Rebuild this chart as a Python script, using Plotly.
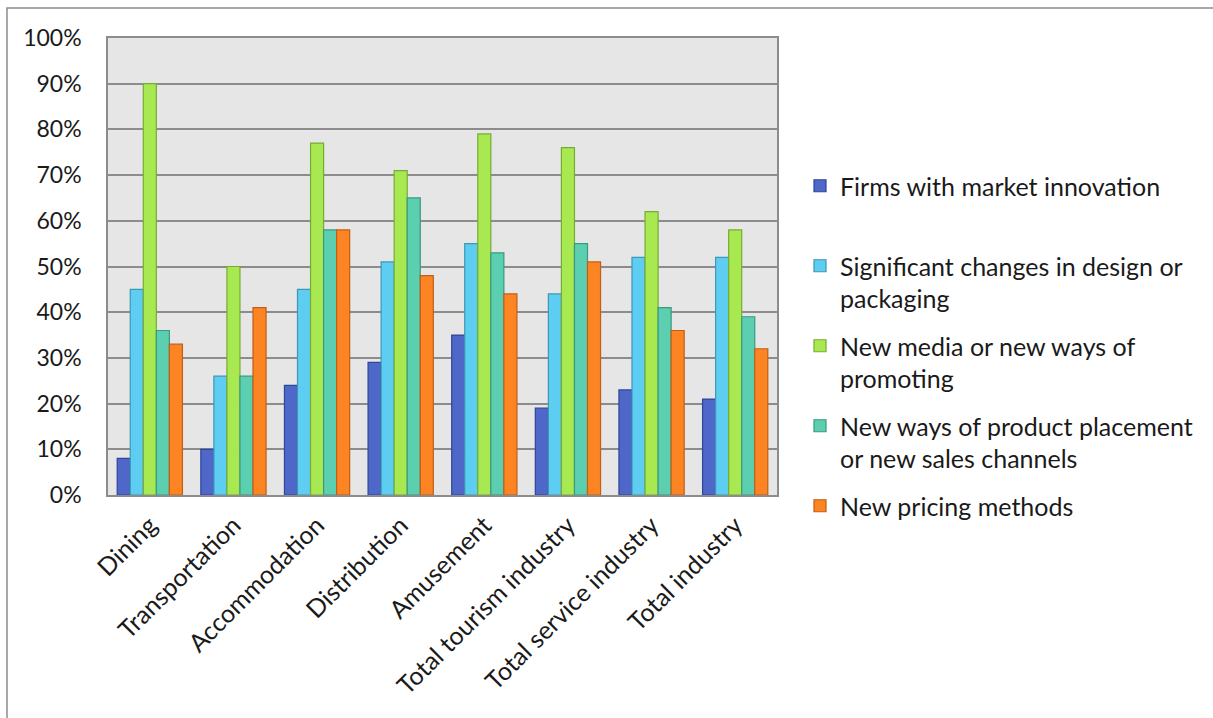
import plotly.graph_objects as go

categories = ["Dining", "Transportation", "Accommodation", "Distribution",
              "Amusement", "Total tourism industry", "Total service industry",
              "Total industry"]

firms_market_innovation = [8, 10, 24, 29, 35, 19, 23, 21]
design_or_packaging = [45, 26, 45, 51, 55, 44, 52, 52]
new_media_promoting = [90, 50, 77, 71, 79, 76, 62, 58]
placement_sales_channels = [36, 26, 58, 65, 53, 55, 41, 39]
new_pricing_methods = [33, 41, 58, 48, 44, 51, 36, 32]

series_names = [
    "Firms with market innovation<br>&nbsp;",
    "Significant changes in design or<br>packaging",
    "New media or new ways of<br>promoting",
    "New ways of product placement<br>or new sales channels",
    "New pricing methods<br>&nbsp;",
]
series_values = [firms_market_innovation, design_or_packaging, new_media_promoting,
                 placement_sales_channels, new_pricing_methods]
fill_colors = ["#4f67c9", "#5ecdf2", "#a8e850", "#5ccfb0", "#fd8422"]
edge_colors = ["#2e4696", "#3d97b6", "#78ab36", "#389a7f", "#c25e16"]

FONT = "Lato"
W, H = 1213, 718
L, R, T, B = 108, 436, 38, 223
pw, ph = W - L - R, H - T - B

fig = go.Figure()
for i, (name, vals) in enumerate(zip(series_names, series_values)):
    fig.add_trace(go.Bar(
        x=categories, y=vals, name=name, legendgroup=f"g{i}",
        marker=dict(color=fill_colors[i], line=dict(color=edge_colors[i], width=1.2)),
    ))

# outer chart frame
fig.add_shape(type="rect", xref="paper", yref="paper",
              x0=(7 - L) / pw, x1=(1225 - L) / pw,
              y0=(H - B - 730) / ph, y1=(H - B - 8) / ph,
              line=dict(color="#8c8c8c", width=1.5), fillcolor="rgba(0,0,0,0)",
              layer="below")

fig.update_layout(
    width=W, height=H,
    margin=dict(l=L, r=R, t=T, b=B, pad=0),
    paper_bgcolor="white",
    plot_bgcolor="#e6e6e6",
    barmode="group", bargap=0.22, bargroupgap=0,
    font=dict(family=FONT, size=24, color="#1a1a1a"),
    legend=dict(
        x=(800 - L) / pw, xanchor="left",
        y=(H - B - 163) / ph, yanchor="top",
        valign="top", tracegroupgap=12,
        font=dict(family=FONT, size=25, color="#1a1a1a"),
        bgcolor="rgba(0,0,0,0)",
    ),
    xaxis=dict(
        tickangle=-45, showline=True, linecolor="#8c8c8c", linewidth=1.5,
        mirror=True, showgrid=False, ticks="", ticklabelstandoff=4,
        tickfont=dict(family=FONT, size=25, color="#1a1a1a"),
    ),
    yaxis=dict(
        range=[0, 100], dtick=10, ticksuffix="%",
        showgrid=True, gridcolor="#8c8c8c", gridwidth=1.5,
        showline=True, linecolor="#8c8c8c", linewidth=1.5, mirror=True,
        ticks="", ticklabelstandoff=20, zeroline=False,
        tickfont=dict(family=FONT, size=23, color="#1a1a1a"),
    ),
)

fig.write_html("out.html")
